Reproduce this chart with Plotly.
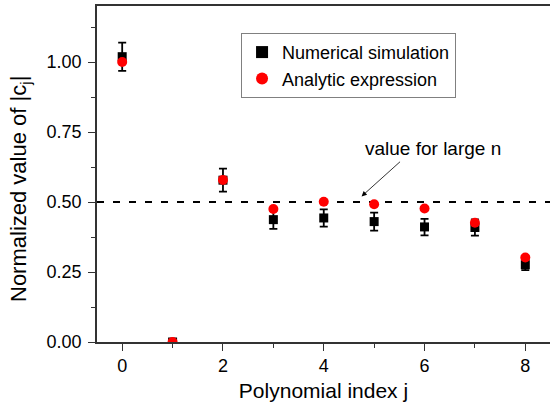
import plotly.graph_objects as go

j = [0, 1, 2, 3, 4, 5, 6, 7, 8]
numerical = [1.019, 0.0, 0.578, 0.437, 0.443, 0.430, 0.411, 0.409, 0.276]
num_err_plus = [0.050, 0.0, 0.041, 0.032, 0.031, 0.032, 0.029, 0.029, 0.019]
num_err_minus = [0.051, 0.0, 0.041, 0.033, 0.031, 0.032, 0.030, 0.029, 0.019]
analytic = [1.0, 0.0, 0.579, 0.475, 0.501, 0.492, 0.477, 0.426, 0.302]
large_n_value = 0.5

y_ticks = [0.0, 0.25, 0.5, 0.75, 1.0]
y_tick_text = ["0.00", "0.25", "0.50", "0.75", "1.00"]
x_ticks = [0, 2, 4, 6, 8]

FONT = "Liberation Sans, Arial, sans-serif"

fig = go.Figure()

fig.add_trace(go.Scatter(
    x=[-0.5, 8.6], y=[large_n_value, large_n_value], mode="lines",
    line=dict(color="black", width=1.8, dash="7px,9px"),
    showlegend=False, hoverinfo="skip"))

fig.add_trace(go.Scatter(
    x=j, y=numerical, mode="markers", name="Numerical simulation",
    marker=dict(symbol="square", size=9, color="black"),
    error_y=dict(type="data", symmetric=False, array=num_err_plus,
                 arrayminus=num_err_minus, color="black", thickness=1.8, width=4)))

fig.add_trace(go.Scatter(
    x=j, y=analytic, mode="markers", name="Analytic expression",
    marker=dict(symbol="circle", size=10, color="#ff0000")))

fig.add_annotation(
    x=4.75, y=0.52, ax=40, ay=-36, xref="x", yref="y", text="",
    showarrow=True, arrowhead=2, arrowsize=1.3, arrowwidth=0.8,
    arrowcolor="black")
fig.add_annotation(
    x=6.17, y=0.69, xref="x", yref="y", text="value for large n",
    showarrow=False, font=dict(family=FONT, size=19, color="black"))
fig.add_annotation(
    x=0, y=0.5, xref="paper", yref="paper", xshift=-77, yshift=-15,
    text="Normalized value of |c<sub>j</sub>|", textangle=-90,
    showarrow=False, xanchor="center", yanchor="middle",
    font=dict(family=FONT, size=22, color="black"))

fig.update_layout(
    width=550, height=407,
    margin=dict(l=97, r=0, t=6, b=65),
    paper_bgcolor="white", plot_bgcolor="white",
    font=dict(family=FONT, color="black"),
    legend=dict(x=0.318, y=0.92, xanchor="left", yanchor="top",
                bordercolor="#808080", borderwidth=1,
                font=dict(family=FONT, size=18, color="black"),
                itemsizing="constant", tracegroupgap=0,
                bgcolor="white"),
    xaxis=dict(range=[-0.5, 8.49], tickvals=x_ticks,
               showgrid=False, zeroline=False, showline=True,
               linecolor="#333333", linewidth=1.5, mirror=True,
               ticks="outside", ticklen=7, tickwidth=1.2, tickcolor="#333333",
               tickfont=dict(family=FONT, size=18),
               minor=dict(dtick=1, tick0=0, ticks="outside", ticklen=4,
                          tickwidth=1.2, tickcolor="#333333", showgrid=False),
               title=dict(text="Polynomial index j",
                          font=dict(family=FONT, size=21), standoff=8)),
    yaxis=dict(range=[0, 1.2], tickvals=y_ticks, ticktext=y_tick_text,
               showgrid=False, zeroline=False, showline=True,
               linecolor="#333333", linewidth=1.5, mirror=False,
               ticks="outside", ticklen=7, tickwidth=1.2, tickcolor="#333333",
               tickfont=dict(family=FONT, size=18), ticklabelstandoff=3,
               minor=dict(dtick=0.125, tick0=0, ticks="outside", ticklen=4,
                          tickwidth=1.2, tickcolor="#333333", showgrid=False)),
)

fig.write_html("out.html")
